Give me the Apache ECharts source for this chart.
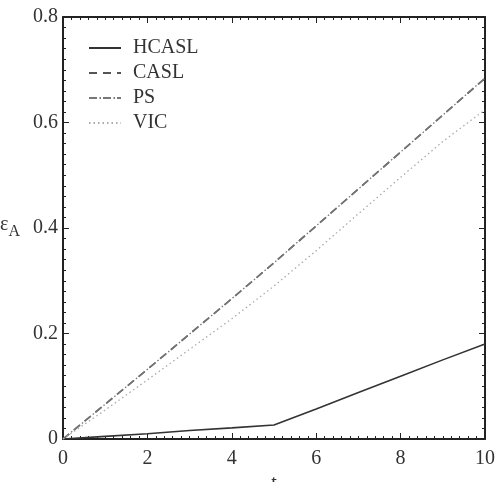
<!DOCTYPE html>
<html><head><meta charset="utf-8">
<script src="https://cdn.jsdelivr.net/npm/echarts@6/dist/echarts.min.js"></script>
<style>html,body{margin:0;padding:0;background:#fff}#c{width:496px;height:482px}</style>
</head><body><div id="c"></div>
<script>
var tValues = [0, 1, 2, 3, 4, 5, 6, 7, 8, 9, 10];
var hcasl = [0, 0.005, 0.010, 0.016, 0.021, 0.0265, 0.057, 0.088, 0.119, 0.150, 0.180];
var casl  = [0, 0.066, 0.132, 0.199, 0.266, 0.334, 0.404, 0.474, 0.544, 0.614, 0.684];
var ps    = [0, 0.066, 0.132, 0.199, 0.266, 0.334, 0.404, 0.474, 0.544, 0.614, 0.684];
var vic   = [0, 0.055, 0.112, 0.170, 0.228, 0.290, 0.357, 0.427, 0.496, 0.564, 0.624];
var xTicks = [0, 2, 4, 6, 8, 10];
var yTicks = [0, 0.2, 0.4, 0.6, 0.8];

function pairs(ys){ return tValues.map(function(t,i){ return [t, ys[i]]; }); }
var font = "'Liberation Serif', 'Times New Roman', serif";
var axisCol = '#222';
function baseAxis(extra){
  var a = {
    axisLine:{show:true, onZero:false, lineStyle:{color:axisCol, width:2}},
    axisTick:{show:true, inside:true, length:6, lineStyle:{color:axisCol, width:1}},
    minorTick:{show:true, splitNumber:10, length:3, lineStyle:{color:axisCol, width:1}},
    splitLine:{show:false}, minorSplitLine:{show:false}
  };
  for (var k in extra) a[k] = extra[k];
  return a;
}
var chart = echarts.init(document.getElementById('c'));
chart.setOption({
  backgroundColor:'#fff',
  animation:false,
  grid:{left:63, right:11, top:17, bottom:43, containLabel:false, outerBoundsMode:'none'},
  legend:{
    left:83, top:33, orient:'vertical', itemWidth:32, itemHeight:14, itemGap:5,
    itemStyle:{opacity:0},
    textStyle:{fontFamily:font, fontSize:20, color:'#333', padding:[0,0,0,7]},
    data:['HCASL','CASL','PS','VIC']
  },
  xAxis:[
    baseAxis({type:'value', min:0, max:10, interval:2, position:'bottom',
      name:'t', nameLocation:'middle', nameGap:34,
      nameTextStyle:{fontFamily:font, fontSize:20, color:'#333'},
      axisLabel:{fontFamily:font, fontSize:20, color:'#333', margin:10,
        formatter:function(v){ return xTicks.indexOf(v)>=0 ? String(v) : ''; }}}),
    baseAxis({type:'value', min:0, max:10, interval:2, position:'top', axisLabel:{show:false}})
  ],
  yAxis:[
    baseAxis({type:'value', min:0, max:0.8, interval:0.2, position:'left',
      name:'{e|ε}{s|A}', nameLocation:'middle', nameGap:43, nameRotate:0,
      nameTextStyle:{rich:{e:{fontFamily:font, fontSize:20, color:'#333', padding:[0,0,6,0]},
                           s:{fontFamily:font, fontSize:16, color:'#333', padding:[8,0,0,0]}}},
      axisLabel:{fontFamily:font, fontSize:20, color:'#333', margin:5,
        formatter:function(v){ var r=Math.round(v*10)/10; return yTicks.indexOf(r)>=0 ? (r===0?'0':String(r)) : ''; }}}),
    baseAxis({type:'value', min:0, max:0.8, interval:0.2, position:'right', axisLabel:{show:false}})
  ],
  series:[
    {name:'HCASL', type:'line', data:pairs(hcasl), symbol:'none', xAxisIndex:0, yAxisIndex:0,
      lineStyle:{color:'#333', width:1.6, type:'solid'}, itemStyle:{color:'#333'}},
    {name:'CASL', type:'line', data:pairs(casl), symbol:'none',
      lineStyle:{color:'#555', width:1.7, type:[8,6]}, itemStyle:{color:'#555'}},
    {name:'PS', type:'line', data:pairs(ps), symbol:'none',
      lineStyle:{color:'#777', width:1.3, type:[8,2.5,1.5,2]}, itemStyle:{color:'#777'}},
    {name:'VIC', type:'line', data:pairs(vic), symbol:'none',
      lineStyle:{color:'#aaa', width:1.3, type:[1.5,3]}, itemStyle:{color:'#aaa'}}
  ]
});
</script></body></html>
